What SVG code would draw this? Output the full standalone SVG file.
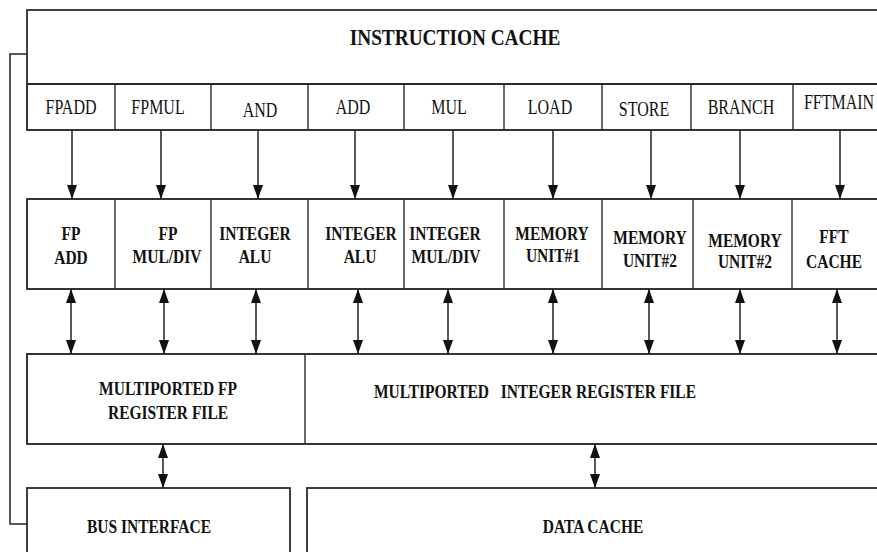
<svg xmlns="http://www.w3.org/2000/svg" width="877" height="552" viewBox="0 0 877 552" font-family="'Liberation Serif', 'DejaVu Serif', serif">
  <style>
    .frame{fill:none;stroke:#2b2b2b;stroke-width:1.8}
    .bg{fill:#fff;stroke:none}
    .cell{fill:none;stroke:#5a5a5a;stroke-width:1.4}
    .wire{fill:none;stroke:#222;stroke-width:1.5}
    text{font-family:'Liberation Serif','DejaVu Serif',serif;fill:#111;text-anchor:middle}
    .title{font-size:19.3px;font-weight:bold}
    .op{font-size:16px}
    .unit{font-size:15.5px;font-weight:bold;white-space:pre}
  </style>
  <defs>
    <marker id="ah" viewBox="0 0 14 10" markerWidth="14" markerHeight="10" refX="14" refY="5" orient="auto-start-reverse" markerUnits="userSpaceOnUse">
      <path d="M0,0 L14,5 L0,10 z" fill="#111"/>
    </marker>
  </defs>
  <rect width="877" height="552" fill="#fff"/>

  <!-- instruction cache with its opcode row -->
  <g id="icache">
    <rect class="bg" x="27" y="10" width="870" height="120"/>
    <text class="title" transform="translate(455,45) scale(1,1.25)">INSTRUCTION CACHE</text>
  </g>
  <g id="op-fpadd"><rect class="cell" x="27" y="84" width="88" height="46"/><text class="op" transform="translate(71,114) scale(1,1.3)">FPADD</text></g>
  <g id="op-fpmul"><rect class="cell" x="115" y="84" width="96" height="46"/><text class="op" transform="translate(158,114) scale(1,1.3)">FPMUL</text></g>
  <g id="op-and"><rect class="cell" x="211" y="84" width="97" height="46"/><text class="op" transform="translate(260,117) scale(1,1.3)">AND</text></g>
  <g id="op-add"><rect class="cell" x="308" y="84" width="96" height="46"/><text class="op" transform="translate(353,114) scale(1,1.3)">ADD</text></g>
  <g id="op-mul"><rect class="cell" x="404" y="84" width="100" height="46"/><text class="op" transform="translate(449,114) scale(1,1.3)">MUL</text></g>
  <g id="op-load"><rect class="cell" x="504" y="84" width="98" height="46"/><text class="op" transform="translate(550,114) scale(1,1.3)">LOAD</text></g>
  <g id="op-store"><rect class="cell" x="602" y="84" width="89" height="46"/><text class="op" transform="translate(644,116) scale(1,1.3)">STORE</text></g>
  <g id="op-branch"><rect class="cell" x="691" y="84" width="102" height="46"/><text class="op" transform="translate(741,114) scale(1,1.3)">BRANCH</text></g>
  <g id="op-fftmain"><rect class="cell" x="793" y="84" width="100" height="46"/><text class="op" transform="translate(839,109) scale(1,1.3)">FFTMAIN</text></g>
  <g id="icache-frame">
    <rect class="frame" x="27" y="10" width="870" height="120"/>
    <line class="frame" x1="27" y1="84" x2="877" y2="84"/>
  </g>

  <!-- functional units -->
  <g id="u-fpadd"><rect class="cell" x="27" y="199" width="88" height="90"/>
    <text class="unit" transform="translate(71,240) scale(1,1.25)">FP</text>
    <text class="unit" transform="translate(71,264) scale(1,1.25)">ADD</text></g>
  <g id="u-fpmul"><rect class="cell" x="115" y="199" width="96" height="90"/>
    <text class="unit" transform="translate(168,240) scale(1,1.25)">FP</text>
    <text class="unit" transform="translate(167,263) scale(1,1.25)">MUL/DIV</text></g>
  <g id="u-ialu1"><rect class="cell" x="211" y="199" width="97" height="90"/>
    <text class="unit" transform="translate(255,240) scale(1,1.25)">INTEGER</text>
    <text class="unit" transform="translate(255,263) scale(1,1.25)">ALU</text></g>
  <g id="u-ialu2"><rect class="cell" x="308" y="199" width="96" height="90"/>
    <text class="unit" transform="translate(361,240) scale(1,1.25)">INTEGER</text>
    <text class="unit" transform="translate(360,263) scale(1,1.25)">ALU</text></g>
  <g id="u-imul"><rect class="cell" x="404" y="199" width="100" height="90"/>
    <text class="unit" transform="translate(445,240) scale(1,1.25)">INTEGER</text>
    <text class="unit" transform="translate(446,263) scale(1,1.25)">MUL/DIV</text></g>
  <g id="u-mem1"><rect class="cell" x="504" y="199" width="98" height="90"/>
    <text class="unit" transform="translate(552,240) scale(1,1.25)">MEMORY</text>
    <text class="unit" transform="translate(553,262) scale(1,1.25)">UNIT#1</text></g>
  <g id="u-mem2a"><rect class="cell" x="602" y="199" width="91" height="90"/>
    <text class="unit" transform="translate(650,244) scale(1,1.25)">MEMORY</text>
    <text class="unit" transform="translate(650,267) scale(1,1.25)">UNIT#2</text></g>
  <g id="u-mem2b"><rect class="cell" x="693" y="199" width="99" height="90"/>
    <text class="unit" transform="translate(745,247) scale(1,1.25)">MEMORY</text>
    <text class="unit" transform="translate(745,268) scale(1,1.25)">UNIT#2</text></g>
  <g id="u-fft"><rect class="cell" x="792" y="199" width="100" height="90"/>
    <text class="unit" transform="translate(834,243) scale(1,1.25)">FFT</text>
    <text class="unit" transform="translate(834,268) scale(1,1.25)">CACHE</text></g>
  <rect class="frame" x="27" y="199" width="870" height="90"/>

  <!-- register files -->
  <g id="fp-regs"><rect class="cell" x="27" y="354" width="278" height="90"/>
    <text class="unit" transform="translate(168,395) scale(1,1.25)">MULTIPORTED FP</text>
    <text class="unit" transform="translate(168,419) scale(1,1.25)">REGISTER FILE</text></g>
  <g id="int-regs"><rect class="cell" x="305" y="354" width="592" height="90"/>
    <text class="unit" transform="translate(535,398) scale(1,1.25)" xml:space="preserve">MULTIPORTED   INTEGER REGISTER FILE</text></g>
  <rect class="frame" x="27" y="354" width="870" height="90"/>

  <!-- memory side -->
  <g id="bus-if"><rect class="frame" x="27" y="488" width="263" height="80"/>
    <text class="unit" transform="translate(149,533) scale(1,1.25)">BUS INTERFACE</text></g>
  <g id="dcache"><rect class="frame" x="307" y="488" width="590" height="80"/>
    <text class="unit" transform="translate(593,533) scale(1,1.25)">DATA CACHE</text></g>

  <!-- connectors -->
  <g id="connectors" class="wire">
    <line x1="72" y1="130" x2="72" y2="199" marker-end="url(#ah)"/>
    <line x1="161" y1="130" x2="161" y2="199" marker-end="url(#ah)"/>
    <line x1="258" y1="130" x2="258" y2="199" marker-end="url(#ah)"/>
    <line x1="355" y1="130" x2="355" y2="199" marker-end="url(#ah)"/>
    <line x1="453" y1="130" x2="453" y2="199" marker-end="url(#ah)"/>
    <line x1="553" y1="130" x2="553" y2="199" marker-end="url(#ah)"/>
    <line x1="651" y1="130" x2="651" y2="199" marker-end="url(#ah)"/>
    <line x1="740" y1="130" x2="740" y2="199" marker-end="url(#ah)"/>
    <line x1="840" y1="130" x2="840" y2="199" marker-end="url(#ah)"/>

    <line x1="71" y1="289" x2="71" y2="354" marker-start="url(#ah)" marker-end="url(#ah)"/>
    <line x1="164" y1="289" x2="164" y2="354" marker-start="url(#ah)" marker-end="url(#ah)"/>
    <line x1="256" y1="289" x2="256" y2="354" marker-start="url(#ah)" marker-end="url(#ah)"/>
    <line x1="358" y1="289" x2="358" y2="354" marker-start="url(#ah)" marker-end="url(#ah)"/>
    <line x1="448" y1="289" x2="448" y2="354" marker-start="url(#ah)" marker-end="url(#ah)"/>
    <line x1="553" y1="289" x2="553" y2="354" marker-start="url(#ah)" marker-end="url(#ah)"/>
    <line x1="649" y1="289" x2="649" y2="354" marker-start="url(#ah)" marker-end="url(#ah)"/>
    <line x1="740" y1="289" x2="740" y2="354" marker-start="url(#ah)" marker-end="url(#ah)"/>
    <line x1="837" y1="289" x2="837" y2="354" marker-start="url(#ah)" marker-end="url(#ah)"/>

    <line x1="163" y1="444" x2="163" y2="488" marker-start="url(#ah)" marker-end="url(#ah)"/>
    <line x1="595" y1="444" x2="595" y2="488" marker-start="url(#ah)" marker-end="url(#ah)"/>

    <polyline points="27,54 10,54 10,524 27,524"/>
  </g>
</svg>
